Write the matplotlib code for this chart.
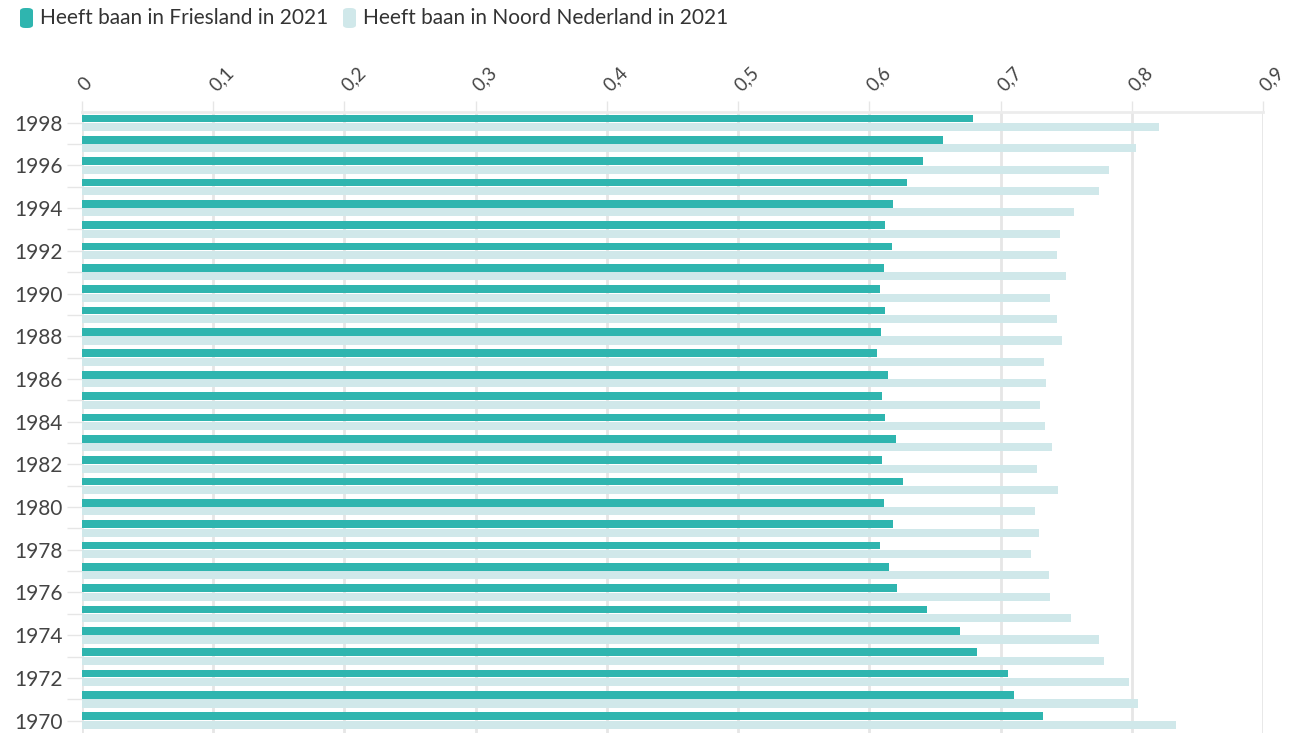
import matplotlib.pyplot as plt
import numpy as np
from matplotlib.patches import FancyBboxPatch

# Data
years = list(range(1998, 1969, -1))
friesland = [0.679, 0.656, 0.641, 0.629, 0.618, 0.612, 0.617, 0.611, 0.608, 0.612,
             0.609, 0.606, 0.614, 0.610, 0.612, 0.620, 0.610, 0.626, 0.611, 0.618,
             0.608, 0.615, 0.621, 0.644, 0.669, 0.682, 0.706, 0.710, 0.732]
noord = [0.821, 0.803, 0.783, 0.775, 0.756, 0.745, 0.743, 0.750, 0.738, 0.743,
         0.747, 0.733, 0.735, 0.730, 0.734, 0.739, 0.728, 0.744, 0.726, 0.729,
         0.723, 0.737, 0.738, 0.754, 0.775, 0.779, 0.798, 0.805, 0.834]
labels = ["Heeft baan in Friesland in 2021", "Heeft baan in Noord Nederland in 2021"]
xticks = [0, 0.1, 0.2, 0.3, 0.4, 0.5, 0.6, 0.7, 0.8, 0.9]

TEAL = '#2fb5af'
LIGHT = '#d0e8ea'
GRID = '#e6e6e6'
TXT = '#444444'

plt.rcParams['font.family'] = ['Lato', 'DejaVu Sans']

W, H = 1302, 733
fig = plt.figure(figsize=(W / 100, H / 100), dpi=100)
ax = fig.add_axes([82 / W, 0, (1263 - 82) / W, 1 - 112 / H])

y = np.array(years, dtype=float)
ax.barh(y + 0.2, friesland, height=0.36, color=TEAL, zorder=3)
ax.barh(y - 0.2, noord, height=0.38, color=LIGHT, zorder=2)

ax.set_xlim(0, 0.9)
ax.set_ylim(1969.42, 1998.5)

# x axis on top, rotated comma labels
ax.xaxis.tick_top()
ax.set_xticks(xticks)
ax.set_xticklabels([f"{v:g}".replace('.', ',') for v in xticks],
                   rotation=45, ha='left', va='center', rotation_mode='anchor',
                   fontsize=13.5, color=TXT)
ax.tick_params(axis='x', length=8, width=1, color=GRID, pad=9)

# y axis: minor ticks every year, labels every other year
ax.set_yticks([yr for yr in years if yr % 2 == 0])
ax.set_yticklabels([str(yr) for yr in years if yr % 2 == 0], fontsize=15, color=TXT)
ax.set_yticks([yr for yr in years if yr % 2 == 1], minor=True)
ax.tick_params(axis='y', which='both', length=11, width=1, color=GRID, pad=3)

ax.grid(axis='x', color=GRID, linewidth=2, zorder=0)
for side in ['right', 'bottom', 'left']:
    ax.spines[side].set_visible(False)
ax.spines['top'].set_color('#ececec')
ax.spines['top'].set_linewidth(2)

# legend at top left
def legend_item(x_px, color, text):
    box = FancyBboxPatch((x_px / W, 1 - 28 / H), 13 / W, 20 / H,
                         boxstyle='round,pad=0,rounding_size=0.004',
                         transform=fig.transFigure, facecolor=color,
                         edgecolor='none')
    fig.add_artist(box)
    fig.text((x_px + 20) / W, 1 - 18 / H, text, fontsize=15, color='#333333',
             ha='left', va='center')

legend_item(20, TEAL, labels[0])
legend_item(343, LIGHT, labels[1])

fig.savefig('out.png', dpi=100)
